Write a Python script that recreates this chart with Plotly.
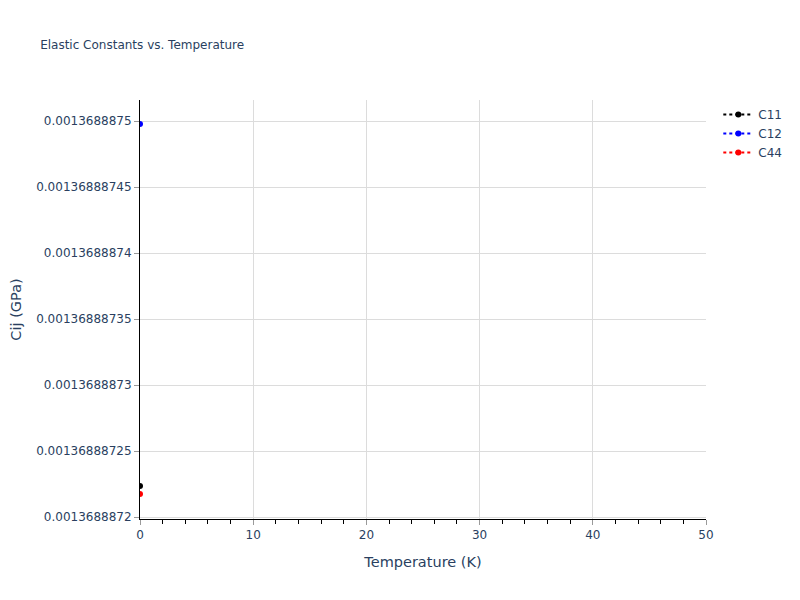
import plotly.graph_objects as go

# temperatures (K) and elastic constants (GPa)
temperature = [0.0]
c11 = [0.00136888722348]
c12 = [0.00136888749773]
c44 = [0.00136888721742]

series = [
    ("C11", c11, "black"),
    ("C12", c12, "blue"),
    ("C44", c44, "red"),
]

fig = go.Figure()
for name, values, color in series:
    fig.add_trace(go.Scatter(
        x=temperature, y=values,
        mode="lines+markers",
        name=name,
        line=dict(color=color, dash="dot"),
        marker=dict(color=color, size=6),
    ))

fig.update_layout(
    template="plotly_white",
    font=dict(family="DejaVu Sans"),
    title=dict(text="Elastic Constants vs. Temperature", x=0.041,
               y=0.937, yanchor="middle", font=dict(size=12)),
    margin=dict(l=132, r=86, t=92, b=73),
    legend=dict(font=dict(size=12), xref="container", x=0.906,
                xanchor="left", y=1, yanchor="top"),
)
fig.update_xaxes(
    title_text="Temperature (K)",
    title_font_size=14.5,
    automargin=False,
    range=[0, 50],
    showline=True, linecolor="black",
    gridcolor="#dcdcdc",
    ticks="outside", tickcolor="#9a9a9a", ticklen=5,
    minor=dict(ticks="outside", tickcolor="black", ticklen=4, dtick=2,
               showgrid=False),
    zeroline=False,
)
fig.update_yaxes(
    title_text="Cij (GPa)",
    title_font_size=14.5,
    title_standoff=12,
    automargin=False,
    range=[0.0013688871985, 0.00136888751591],
    dtick=5e-11,
    showline=True, linecolor="black",
    gridcolor="#dcdcdc",
    ticks="outside", tickcolor="#9a9a9a", ticklen=5,
    zeroline=False,
)

fig.write_html("out.html")
